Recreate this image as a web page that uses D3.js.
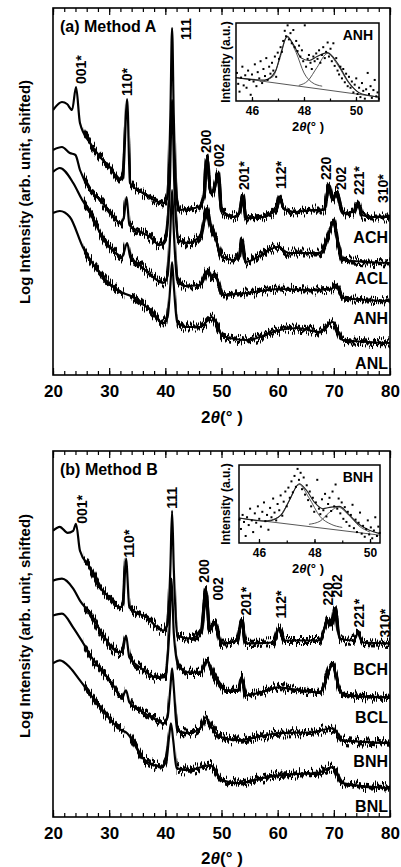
<!DOCTYPE html>
<html>
<head>
<meta charset="utf-8">
<script src="https://cdn.jsdelivr.net/npm/d3@7/dist/d3.min.js"></script>
<style>
  body { margin: 0; background: #fff; }
  svg { display: block; font-family: "Liberation Sans", Arial, sans-serif; }
</style>
</head>
<body>
<svg id="chart" width="401" height="867"></svg>
<script>
// ---- data: [2theta (deg), log intensity (arb. unit, shifted)] ----
const ACH = [[20,265],[21.6,273],[22.5,271],[23.4,265],[24.1,288],[24.8,252],[26.6,232],[28.4,218],[30.1,208],[31.9,195],[32.5,200],[33.2,276],[33.7,192],[36,182],[39.6,172],[40.4,178],[40.9,260],[41.2,347],[41.5,260],[42,175],[42.6,165],[46,168],[46.9,180],[47.4,217],[48,185],[48.4,182],[49.4,202],[50,165],[52,158],[53.2,162],[53.8,180],[54.4,157],[57.4,158],[59.8,167],[60.4,178],[61,167],[63,163],[66.3,165],[68.3,165],[69.1,190],[69.8,175],[70.5,183],[71.6,162],[73.5,163],[74.3,173],[75,160],[77,158],[80,158]];
const ACL = [[20,225],[21.6,228],[23,222],[24,220],[24.8,205],[26.6,185],[28.4,175],[29.9,165],[32,152],[32.6,157],[33.1,178],[33.6,150],[37.3,138],[39,130],[40.1,137],[40.8,190],[41.2,275],[41.6,190],[42.3,135],[44,132],[46.3,140],[47.4,167],[48,150],[49,135],[50.2,118],[52,115],[53.2,120],[53.6,135],[54.3,113],[56.5,118],[60,128],[62,122],[67.5,122],[69,140],[69.9,153],[70.8,130],[71.6,115],[80,112]];
const ANH = [[20,203],[21.2,207],[23.6,192],[25.2,175],[26.6,163],[28.4,142],[30.1,128],[32.3,118],[33.2,132],[33.8,117],[35,112],[37,102],[38.5,95],[39.6,92],[40.4,99],[40.9,145],[41.2,185],[41.5,145],[42.1,95],[43.5,89],[46.2,90],[47.6,105],[48.3,97],[49,99],[50.2,80],[54.5,82],[60.4,86],[66.3,85],[69.5,86],[70.5,90],[71.6,77],[80,74]];
const ANL = [[20,162],[21.2,164],[23,158],[25.3,128],[28.9,98],[31.4,85],[34.2,78],[37.3,65],[39.6,52],[40.4,58],[40.9,90],[41.2,113],[41.5,90],[42.1,53],[44,48],[46.2,48],[48.3,58],[50.2,39],[54.5,35],[60.4,45],[63.4,47],[67.5,43],[69.8,53],[71.6,35],[80,32]];

const BCH = [[20,287],[21.2,291],[22.6,285],[23.6,287],[24.1,294],[24.8,267],[26.6,250],[28.4,230],[30.1,220],[31.9,210],[32.5,214],[33,259],[33.6,210],[36.7,200],[39.6,187],[40.4,193],[40.9,250],[41.2,307],[41.5,250],[42.1,182],[44.5,179],[46.4,187],[47.2,227],[47.9,187],[48.8,195],[50,174],[52.8,177],[53.6,197],[54.3,174],[59.2,175],[60.3,189],[61.2,177],[67.5,177],[68.4,190],[68.9,197],[69.6,192],[70.2,209],[71,179],[73.5,177],[74.3,184],[75.2,175],[80,174]];
const BCL = [[20,237],[21.6,239],[23.6,229],[24.8,217],[26.6,204],[28.4,187],[31.9,165],[32.5,169],[33,182],[33.6,160],[35.5,150],[38.5,140],[40,141],[40.7,185],[41.1,239],[41.5,185],[42.3,152],[44,145],[46.2,145],[47.4,157],[48.5,144],[50.9,127],[53,127],[53.6,140],[54.3,122],[57,125],[60,130],[64,127],[67.5,125],[69.8,152],[71,127],[72,122],[80,120]];
const BNH = [[20,202],[21.6,204],[23.6,190],[25.3,175],[27,159],[28.4,149],[30.5,134],[32.3,120],[33,127],[33.6,115],[35.5,107],[38.5,97],[39.6,94],[40.4,100],[40.9,130],[41.2,149],[41.5,130],[42.1,87],[44,84],[46.2,89],[47.2,100],[48,92],[50,80],[53,77],[57,81],[60,84],[66,85],[69.8,89],[71.5,77],[80,74]];
const BNL = [[20,154],[21.2,157],[23,150],[24.8,137],[28.4,110],[31.9,88],[33.2,84],[36,59],[38.5,51],[39.3,50],[40.2,57],[40.7,82],[41,94],[41.4,77],[42,49],[44,47],[47,51],[48,52],[50,37],[53,34],[58,40],[63,43],[67,44],[69.8,50],[71.5,34],[80,29]];

const seriesNamesA = ['ACH', 'ACL', 'ANH', 'ANL'];
const seriesNamesB = ['BCH', 'BCL', 'BNH', 'BNL'];
const seriesLabelV_A = [132, 91, 51, 6];
const seriesLabelV_B = [142, 94, 50, 5];

const peakNames = ['001*', '110*', '111', '200', '002', '201*', '112*', '220', '202', '221*', '310*'];
const peakLabelThetaA = [25.0, 33.2, 43.7, 47.2, 49.5, 54.0, 60.6, 68.6, 71.3, 74.5, 78.8];
const peakLabelV_A = [291, 279, 335, 222, 208, 185, 186, 195, 185, 180, 172];
const peakLabelThetaB = [25.2, 33.5, 41.2, 46.9, 49.4, 54.4, 60.6, 69.0, 70.6, 74.5, 79.1];
const peakLabelV_B = [294, 260, 309, 235, 217, 202, 199, 212, 220, 190, 180];

const xTicks = [20, 30, 40, 50, 60, 70, 80];
const insetTicks = [46, 48, 50];

// inset scatter: [2theta, intensity (a.u.)]
const insetPointsA = [[45.42,36],[45.47,22],[45.52,12],[45.58,30],[45.63,44],[45.68,20],[45.74,33],[45.79,17],[45.85,39],[45.9,27],[45.95,8],[46,34],[46.06,25],[46.11,47],[46.17,19],[46.22,37],[46.28,29],[46.33,51],[46.39,23],[46.44,41],[46.5,32],[46.55,55],[46.6,27],[46.66,44],[46.71,35],[46.77,49],[46.82,39],[46.88,57],[46.93,31],[46.99,62],[47.04,54],[47.1,69],[47.15,63],[47.2,77],[47.26,90],[47.31,83],[47.37,97],[47.42,79],[47.48,87],[47.53,74],[47.59,91],[47.64,69],[47.7,77],[47.75,64],[47.81,71],[47.86,57],[47.92,65],[47.97,51],[48.03,97],[48.08,44],[48.14,54],[48.19,59],[48.25,49],[48.3,41],[48.36,57],[48.41,51],[48.47,61],[48.52,54],[48.58,65],[48.63,49],[48.69,59],[48.74,69],[48.8,55],[48.85,63],[48.91,75],[48.96,57],[49.02,67],[49.07,51],[49.13,74],[49.18,45],[49.24,55],[49.29,39],[49.35,34],[49.4,44],[49.46,29],[49.51,41],[49.57,24],[49.62,35],[49.68,19],[49.73,31],[49.79,17],[49.84,25],[49.9,11],[49.95,21],[50.01,29],[50.06,9],[50.12,17],[50.17,5],[50.23,23],[50.28,13],[50.34,3],[50.39,15],[50.45,36],[50.5,9],[50.56,19],[50.61,4],[50.67,14],[50.72,27],[50.78,6],[50.83,11],[50.88,3]];
const insetPointsB = [[45.3,30],[45.35,18],[45.41,36],[45.46,27],[45.52,9],[45.57,33],[45.63,23],[45.68,44],[45.74,29],[45.79,14],[45.85,38],[45.9,26],[45.96,47],[46.01,31],[46.07,21],[46.12,40],[46.18,52],[46.23,28],[46.29,36],[46.34,17],[46.4,45],[46.45,33],[46.51,57],[46.56,39],[46.62,29],[46.67,50],[46.73,42],[46.78,61],[46.84,35],[46.89,53],[46.95,66],[47,47],[47.06,71],[47.11,58],[47.17,79],[47.22,65],[47.28,86],[47.33,72],[47.39,95],[47.44,81],[47.5,90],[47.55,69],[47.61,84],[47.66,62],[47.72,74],[47.77,55],[47.83,66],[47.88,47],[47.94,58],[47.99,40],[48.05,52],[48.1,81],[48.16,44],[48.21,37],[48.27,56],[48.32,42],[48.38,63],[48.43,34],[48.49,50],[48.54,58],[48.6,41],[48.65,66],[48.71,47],[48.76,75],[48.82,44],[48.87,57],[48.93,38],[48.98,52],[49.04,31],[49.09,46],[49.15,27],[49.2,40],[49.26,22],[49.31,36],[49.37,49],[49.42,19],[49.48,30],[49.53,14],[49.59,26],[49.64,39],[49.7,12],[49.75,22],[49.81,8],[49.86,18],[49.92,29],[49.97,11],[50.03,20],[50.08,6],[50.14,16],[50.19,33],[50.25,9],[50.3,21],[50.35,13]];

// fitted curves of the insets
const fitBaseA = [[45.385,30],[50.885,5]];
const fitSumA = [[45.385,30],[46.5,27],[46.9,38],[47.1,60],[47.35,83],[47.6,72],[47.9,55],[48.2,52],[48.5,57],[48.9,62],[49.3,48],[49.7,25],[50.1,11],[50.5,7],[50.885,5]];
const fitPeak1A = [[46.3,25],[46.8,31],[47.05,52],[47.35,82],[47.7,62],[48.0,36],[48.3,24],[48.7,19]];
const fitPeak2A = [[47.8,20],[48.15,26],[48.5,43],[48.9,61],[49.3,46],[49.7,24],[50.1,11]];
const fitBaseB = [[45.28,32],[50.36,10]];
const fitSumB = [[45.28,32],[46.3,28],[46.8,36],[47.1,55],[47.45,76],[47.7,68],[48.0,52],[48.3,44],[48.6,46],[48.9,47],[49.2,38],[49.6,24],[50.0,16],[50.36,12]];
const fitPeak1B = [[46.2,28],[46.7,33],[47.0,48],[47.45,75],[47.8,58],[48.2,34],[48.6,24],[49.0,20]];
const fitPeak2B = [[47.8,24],[48.2,28],[48.5,38],[48.85,46],[49.2,37],[49.6,22],[50.0,14]];

// 2theta ranges where the scans show counting noise (sharp peaks left clean)
const noisyRanges = [[25.5, 32.7], [33.7, 40.4], [42.0, 80]];

const svg = d3.select('#chart');
const LEFT = 53, RIGHT = 390;

// jagged texture for the counting noise of the scans (y-only displacement)
const defs = svg.append('defs');
[['noise1', 7], ['noise2', 23]].forEach(([id, seed]) => {
    const f = defs.append('filter').attr('id', id)
        .attr('x', '-2%').attr('y', '-30%').attr('width', '104%').attr('height', '160%')
        .attr('color-interpolation-filters', 'sRGB');
    f.append('feTurbulence')
        .attr('type', 'fractalNoise').attr('baseFrequency', '0.9 0.01')
        .attr('numOctaves', 2).attr('seed', seed).attr('result', 'turb');
    const ct = f.append('feComponentTransfer').attr('in', 'turb').attr('result', 'disp');
    ct.append('feFuncR').attr('type', 'linear').attr('slope', 0).attr('intercept', 0.5);
    ct.append('feFuncG').attr('type', 'linear').attr('slope', 2).attr('intercept', -0.5);
    ct.append('feFuncA').attr('type', 'linear').attr('slope', 0).attr('intercept', 1);
    f.append('feDisplacementMap')
        .attr('in', 'SourceGraphic').attr('in2', 'disp')
        .attr('scale', 10).attr('xChannelSelector', 'R').attr('yChannelSelector', 'G');
});

function styleAxis(sel, fontSize) {
    sel.select('.domain').remove();
    sel.selectAll('line').attr('stroke', '#000').attr('stroke-width', 1.2);
    sel.selectAll('text')
        .attr('fill', '#000')
        .style('font-size', `${fontSize}px`)
        .style('font-weight', 'bold');
}

function drawPanel(p) {
    const x = d3.scaleLinear().domain([20, 80]).range([LEFT, RIGHT]);
    const y = d3.scaleLinear().domain([0, 367]).range([p.bottom, p.top]);
    const g = svg.append('g');

    const clipId = `clip-${p.tag}`;
    g.append('clipPath').attr('id', clipId)
        .append('rect')
        .attr('x', LEFT).attr('y', p.top)
        .attr('width', RIGHT - LEFT).attr('height', p.bottom - p.top);
    const noisyClip = `clipn-${p.tag}`;
    g.append('clipPath').attr('id', noisyClip)
        .selectAll('rect').data(noisyRanges).enter().append('rect')
        .attr('x', d => x(d[0])).attr('y', p.top)
        .attr('width', d => x(d[1]) - x(d[0])).attr('height', p.bottom - p.top);

    const line = d3.line()
        .x(d => x(d[0]))
        .y(d => y(d[1]))
        .curve(d3.curveMonotoneX);

    const curves = g.append('g').attr('clip-path', `url(#${clipId})`);
    p.series.forEach(s => {
        const noisy = curves.append('g').attr('clip-path', `url(#${noisyClip})`);
        ['noise1', 'noise2'].forEach(f => {
            noisy.append('path')
                .attr('d', line(s))
                .attr('fill', 'none')
                .attr('stroke', '#000')
                .attr('stroke-width', 3.2)
                .attr('filter', `url(#${f})`);
        });
        curves.append('path')
            .attr('d', line(s))
            .attr('fill', 'none')
            .attr('stroke', '#000')
            .attr('stroke-width', 2.2);
    });

    // minor + major ticks, bottom and top
    const minor = d3.range(20, 81, 2);
    g.append('g').attr('transform', `translate(0,${p.bottom})`)
        .call(d3.axisBottom(x).tickValues(minor).tickSize(-4).tickFormat(''))
        .call(s => styleAxis(s, 17));
    g.append('g').attr('transform', `translate(0,${p.bottom})`)
        .call(d3.axisBottom(x).tickValues(xTicks).tickSize(-7).tickPadding(10))
        .call(s => styleAxis(s, 17));
    g.append('g').attr('transform', `translate(0,${p.top})`)
        .call(d3.axisTop(x).tickValues(minor).tickSize(-4).tickFormat(''))
        .call(s => styleAxis(s, 17));
    g.append('g').attr('transform', `translate(0,${p.top})`)
        .call(d3.axisTop(x).tickValues(xTicks).tickSize(-7).tickFormat(''))
        .call(s => styleAxis(s, 17));

    g.append('rect')
        .attr('x', LEFT).attr('y', p.top)
        .attr('width', RIGHT - LEFT).attr('height', p.bottom - p.top)
        .attr('fill', 'none').attr('stroke', '#000').attr('stroke-width', 1.6);

    // x title
    const xt = g.append('text')
        .attr('x', 222).attr('y', p.titleY)
        .attr('text-anchor', 'middle')
        .style('font-size', '17px').style('font-weight', 'bold');
    xt.append('tspan').text('2');
    xt.append('tspan').style('font-style', 'italic').text('θ');
    xt.append('tspan').text('(° )');

    // y title
    g.append('text')
        .attr('transform', `translate(25,${p.yTitleY}) rotate(-90)`)
        .attr('dy', '0.35em')
        .attr('text-anchor', 'middle')
        .style('font-size', '15px').style('font-weight', 'bold')
        .text('Log Intensity (arb. unit, shifted)');

    // panel title
    g.append('text')
        .attr('x', 60).attr('y', p.top + 24)
        .style('font-size', '16px').style('font-weight', 'bold')
        .text(p.title);

    // peak labels
    peakNames.forEach((name, i) => {
        g.append('text')
            .attr('transform', `translate(${x(p.peakTheta[i])},${y(p.peakV[i])}) rotate(-90)`)
            .attr('dy', '0.35em')
            .style('font-size', '14px').style('font-weight', 'bold')
            .text(name);
    });

    // series labels
    p.names.forEach((name, i) => {
        g.append('text')
            .attr('x', 388).attr('y', y(p.labelV[i]))
            .attr('text-anchor', 'end')
            .style('font-size', '16px').style('font-weight', 'bold')
            .text(name);
    });

    drawInset(p.inset);
}

function drawInset(ins) {
    const x = d3.scaleLinear().domain(ins.domain).range([ins.x0, ins.x1]);
    const y = d3.scaleLinear().domain([0, 100]).range([ins.y1, ins.y0]);
    const g = svg.append('g');

    g.append('rect')
        .attr('x', ins.x0).attr('y', ins.y0)
        .attr('width', ins.x1 - ins.x0).attr('height', ins.y1 - ins.y0)
        .attr('fill', '#fff');

    const line = d3.line().x(d => x(d[0])).y(d => y(d[1])).curve(d3.curveMonotoneX);
    [ins.base, ins.peak1, ins.peak2].forEach(c => {
        g.append('path').attr('d', line(c))
            .attr('fill', 'none').attr('stroke', '#444').attr('stroke-width', 0.9);
    });
    g.append('path').attr('d', line(ins.sum))
        .attr('fill', 'none').attr('stroke', '#222').attr('stroke-width', 1.1);

    g.selectAll('rect.pt').data(ins.points).enter().append('rect')
        .attr('class', 'pt')
        .attr('x', d => x(d[0]) - 1).attr('y', d => y(d[1]) - 1)
        .attr('width', 2).attr('height', 2)
        .attr('fill', '#000');

    g.append('g').attr('transform', `translate(0,${ins.y1})`)
        .call(d3.axisBottom(x).tickValues([46, 47, 48, 49, 50]).tickSize(-2.5).tickFormat(''))
        .call(s => styleAxis(s, 12));
    g.append('g').attr('transform', `translate(0,${ins.y1})`)
        .call(d3.axisBottom(x).tickValues(insetTicks).tickSize(-4).tickPadding(5).tickFormat(d3.format('d')))
        .call(s => styleAxis(s, 12));

    g.append('rect')
        .attr('x', ins.x0).attr('y', ins.y0)
        .attr('width', ins.x1 - ins.x0).attr('height', ins.y1 - ins.y0)
        .attr('fill', 'none').attr('stroke', '#000').attr('stroke-width', 1.5);

    g.append('text')
        .attr('x', 373).attr('y', ins.y0 + 17)
        .attr('text-anchor', 'end')
        .style('font-size', '14px').style('font-weight', 'bold')
        .text(ins.name);

    g.append('text')
        .attr('transform', `translate(226,${(ins.y0 + ins.y1) / 2}) rotate(-90)`)
        .attr('dy', '0.35em')
        .attr('text-anchor', 'middle')
        .style('font-size', '12px').style('font-weight', 'bold')
        .text('Intensity (a.u.)');

    const t = g.append('text')
        .attr('x', 308).attr('y', ins.y1 + 30)
        .attr('text-anchor', 'middle')
        .style('font-size', '13px').style('font-weight', 'bold');
    t.append('tspan').text('2');
    t.append('tspan').style('font-style', 'italic').text('θ');
    t.append('tspan').text('(° )');
}

drawPanel({
    tag: 'a', top: 8, bottom: 375, titleY: 423, yTitleY: 192,
    title: '(a) Method A',
    series: [ACH, ACL, ANH, ANL],
    names: seriesNamesA, labelV: seriesLabelV_A,
    peakTheta: peakLabelThetaA, peakV: peakLabelV_A,
    inset: {
        x0: 236, x1: 379, y0: 23, y1: 101, domain: [45.385, 50.885], name: 'ANH',
        points: insetPointsA, base: fitBaseA, sum: fitSumA, peak1: fitPeak1A, peak2: fitPeak2A,
    },
});

drawPanel({
    tag: 'b', top: 451, bottom: 817, titleY: 864, yTitleY: 626,
    title: '(b) Method B',
    series: [BCH, BCL, BNH, BNL],
    names: seriesNamesB, labelV: seriesLabelV_B,
    peakTheta: peakLabelThetaB, peakV: peakLabelV_B,
    inset: {
        x0: 239, x1: 380, y0: 465, y1: 543, domain: [45.28, 50.36], name: 'BNH',
        points: insetPointsB, base: fitBaseB, sum: fitSumB, peak1: fitPeak1B, peak2: fitPeak2B,
    },
});
</script>
</body>
</html>
